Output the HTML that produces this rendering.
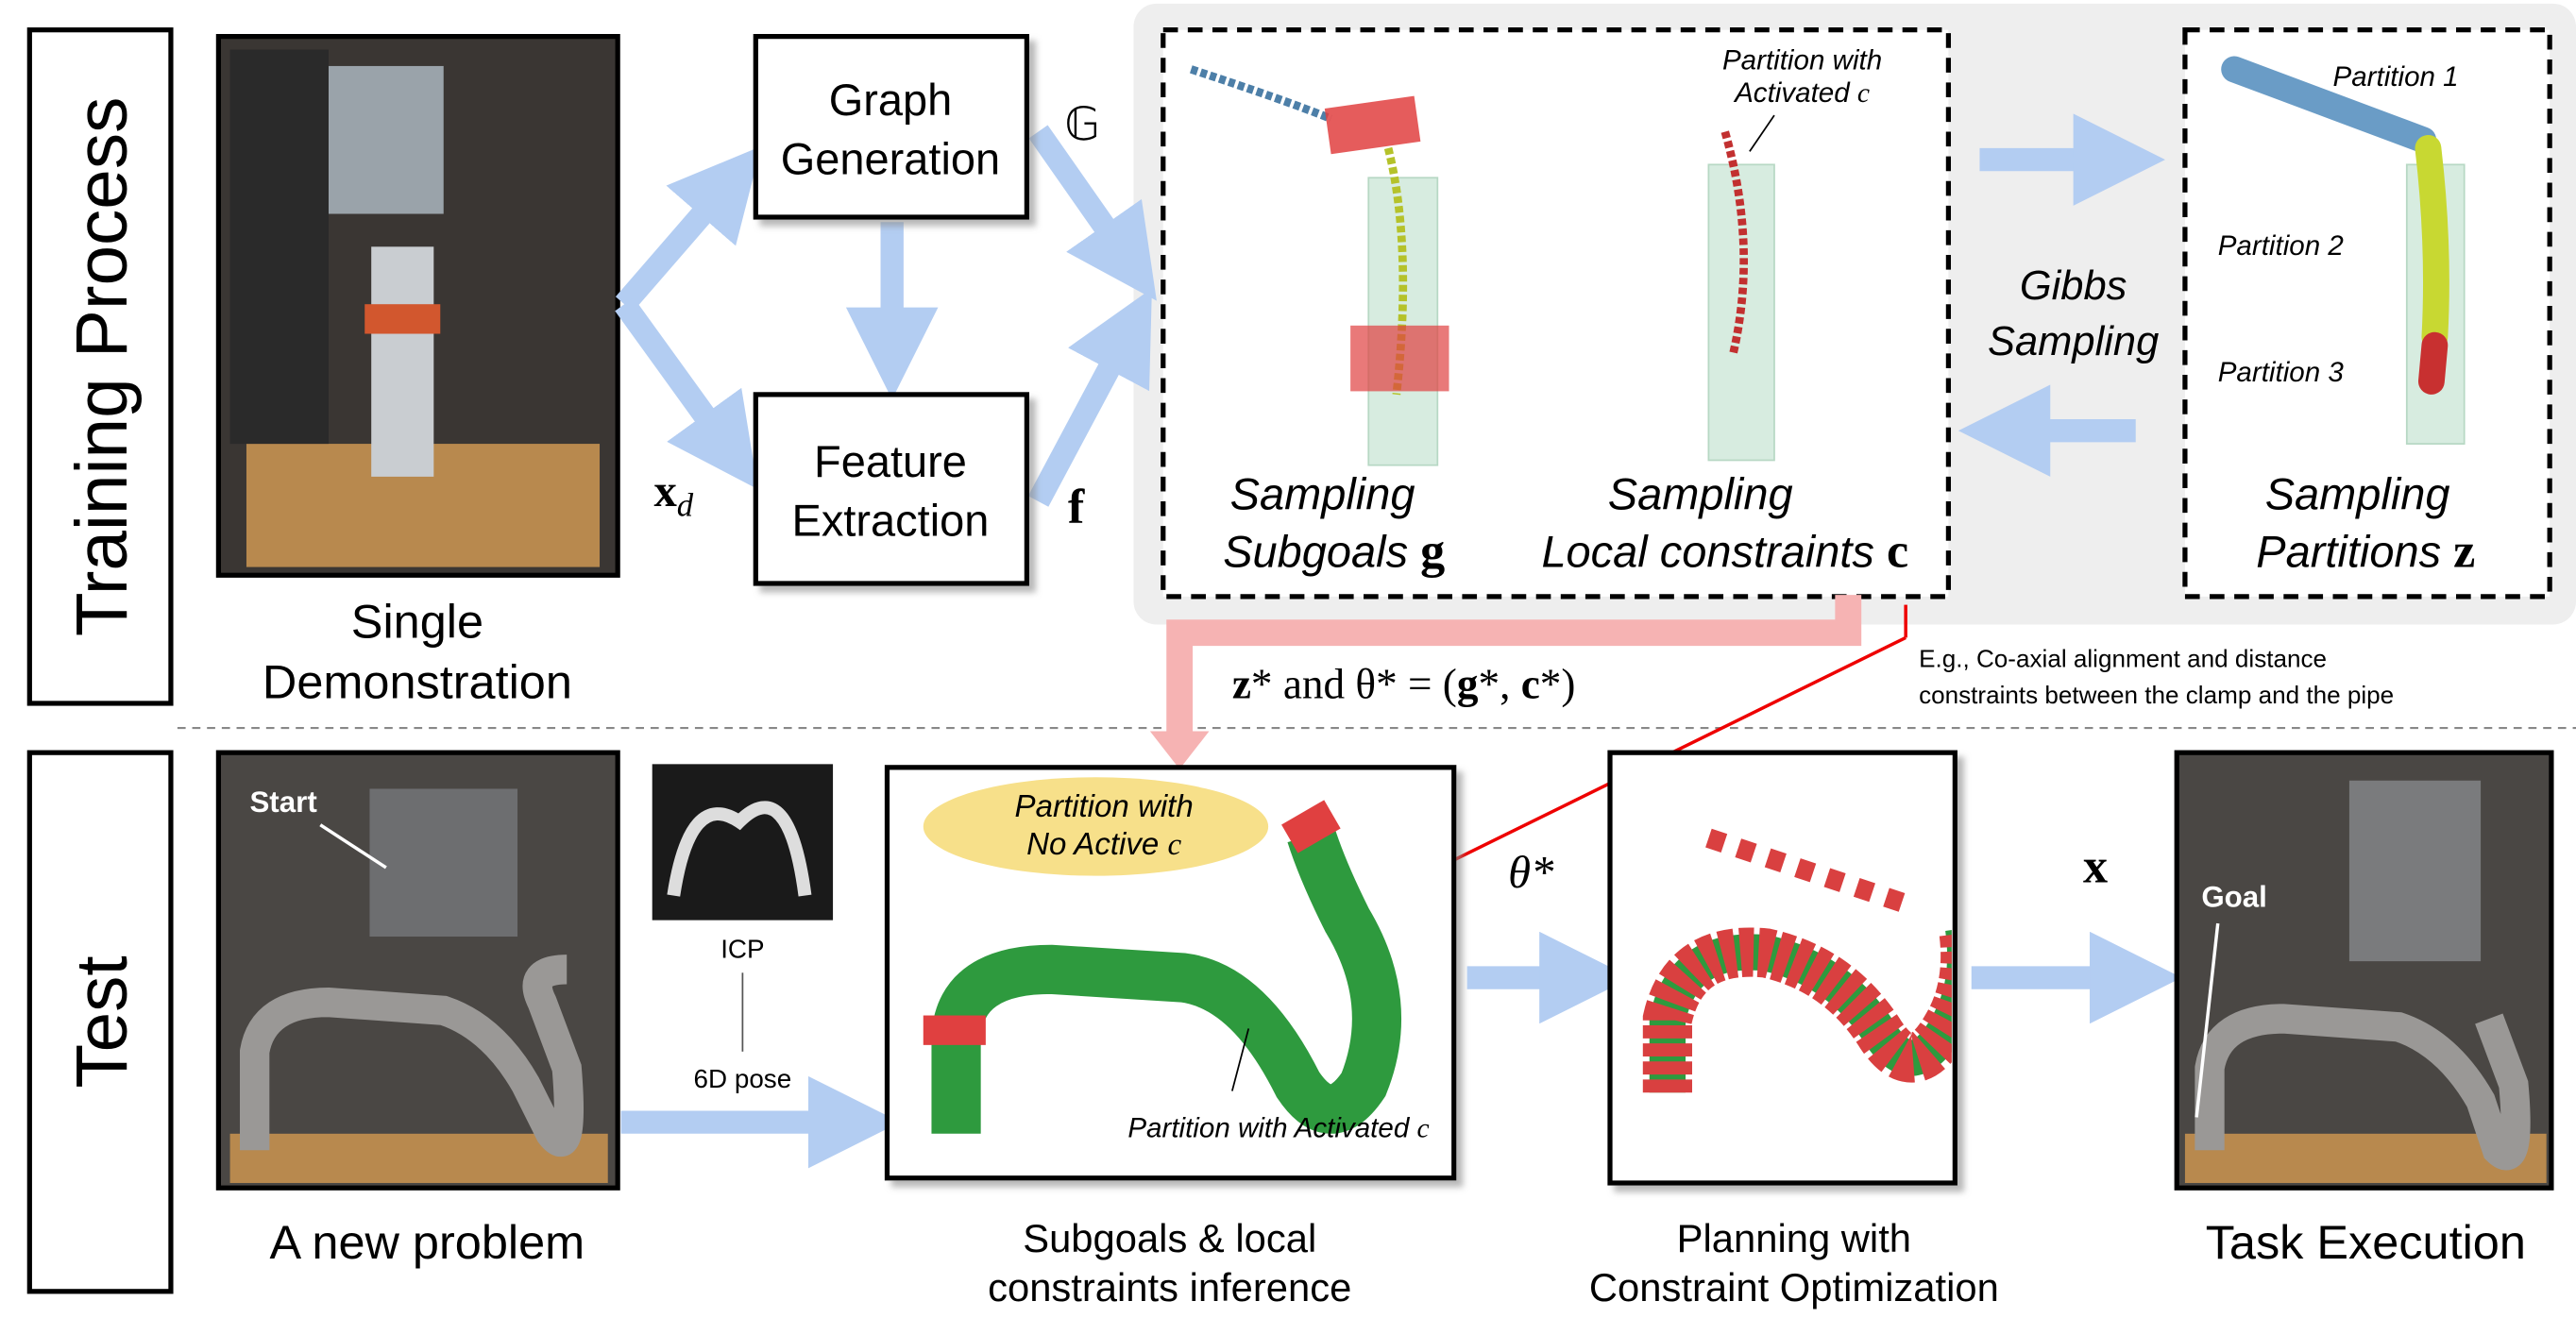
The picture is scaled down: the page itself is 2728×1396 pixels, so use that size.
<!DOCTYPE html>
<html><head><meta charset="utf-8"><style>
html,body{margin:0;padding:0;background:#fff;}
svg{display:block;}
text{font-family:"Liberation Sans",sans-serif;}
.serif{font-family:"Liberation Serif",serif;}
</style></head><body>
<svg width="2728" height="1396" viewBox="0 0 1568 802" xmlns="http://www.w3.org/2000/svg">
<defs>
<marker id="ah" markerWidth="4" markerHeight="4" refX="2" refY="2" orient="auto" markerUnits="strokeWidth"><path d="M0,0 L4,2 L0,4 z" fill="#b3cdf2"/></marker>
<filter id="sh" x="-10%" y="-10%" width="130%" height="130%"><feDropShadow dx="4" dy="4" stdDeviation="2" flood-color="#888" flood-opacity="0.6"/></filter>
<clipPath id="pc"><rect x="982" y="460" width="206" height="258"/></clipPath>
</defs>

<rect x="690" y="2" width="878" height="378" rx="14" fill="#eeeeee"/>

<g>
<rect x="18" y="18" width="86" height="410" fill="#fff" stroke="#000" stroke-width="3"/>
<text x="0" y="0" font-size="44" text-anchor="middle" transform="translate(77,223) rotate(-90)">Training Process</text>
</g>
<g>
<rect x="18" y="458" width="86" height="328" fill="#fff" stroke="#000" stroke-width="3"/>
<text x="0" y="0" font-size="44" text-anchor="middle" transform="translate(77,622) rotate(-90)">Test</text>
</g>

<line x1="108" y1="443" x2="1568" y2="443" stroke="#888" stroke-width="1.2" stroke-dasharray="5,4"/>

<g>
<rect x="133" y="22" width="243" height="328" fill="#3a3633" stroke="#000" stroke-width="3"/>
<rect x="150" y="270" width="215" height="75" fill="#b8894e"/>
<rect x="226" y="150" width="38" height="140" fill="#c9cdd1"/>
<rect x="222" y="185" width="46" height="18" fill="#d2572e"/>
<rect x="200" y="40" width="70" height="90" fill="#9aa3aa"/>
<rect x="140" y="30" width="60" height="240" fill="#2a2a2a"/>
</g>
<text x="254" y="388" font-size="29" text-anchor="middle">Single</text>
<text x="254" y="425" font-size="29" text-anchor="middle">Demonstration</text>

<g fill="none" stroke="#b3cdf2" stroke-width="14">
<path d="M380,185 L445,110" marker-end="url(#ah)"/>
<path d="M380,185 L445,275" marker-end="url(#ah)"/>
<path d="M543,135 L543,215" marker-end="url(#ah)"/>
<path d="M632,80 L688,160" marker-end="url(#ah)"/>
<path d="M632,305 L688,200" marker-end="url(#ah)"/>
<path d="M1205,97 L1290,97" marker-end="url(#ah)"/>
<path d="M1300,262 L1220,262" marker-end="url(#ah)"/>
</g>

<g>
<rect x="460" y="22" width="165" height="110" fill="#fff" stroke="#000" stroke-width="3" filter="url(#sh)"/>
<text x="542" y="70" font-size="27" text-anchor="middle">Graph</text>
<text x="542" y="106" font-size="27" text-anchor="middle">Generation</text>
</g>
<g>
<rect x="460" y="240" width="165" height="115" fill="#fff" stroke="#000" stroke-width="3" filter="url(#sh)"/>
<text x="542" y="290" font-size="27" text-anchor="middle">Feature</text>
<text x="542" y="326" font-size="27" text-anchor="middle">Extraction</text>
</g>
<text x="398" y="308" class="serif" font-size="28" font-weight="bold">x<tspan font-weight="normal" font-style="italic" font-size="20" dy="6">d</tspan></text>
<text x="648" y="85" class="serif" font-size="28">𝔾</text>
<text x="650" y="318" class="serif" font-size="30" font-weight="bold">f</text>

<rect x="708" y="18" width="478" height="345" fill="#fff" stroke="#000" stroke-width="3" stroke-dasharray="9,6"/>
<g>
<rect x="833" y="108" width="42" height="175" fill="#d7ece0" stroke="#b7d8c4"/>
<path d="M725,42 Q780,60 810,72" stroke="#4d7fa8" stroke-width="5" fill="none" stroke-dasharray="4,2"/>
<path d="M845,90 Q860,150 850,240" stroke="#b5c22a" stroke-width="5" fill="none" stroke-dasharray="4,2"/>
<rect x="808" y="62" width="55" height="28" fill="#e04040" opacity="0.85" transform="rotate(-8 835 76)"/>
<rect x="822" y="198" width="60" height="40" fill="#e04040" opacity="0.7"/>
</g>
<g>
<rect x="1040" y="100" width="40" height="180" fill="#d7ece0" stroke="#b7d8c4"/>
<path d="M1050,80 Q1070,150 1055,215" stroke="#c23030" stroke-width="5" fill="none" stroke-dasharray="4,2"/>
<line x1="1065" y1="92" x2="1080" y2="70" stroke="#000"/>
</g>
<text x="1097" y="42" font-size="17" font-style="italic" text-anchor="middle">Partition with</text>
<text x="1097" y="62" font-size="17" font-style="italic" text-anchor="middle">Activated <tspan class="serif">c</tspan></text>
<text x="805" y="310" font-size="27" font-style="italic" text-anchor="middle">Sampling</text>
<text x="812" y="345" font-size="27" font-style="italic" text-anchor="middle">Subgoals <tspan class="serif" font-weight="bold" font-style="normal" font-size="30">g</tspan></text>
<text x="1035" y="310" font-size="27" font-style="italic" text-anchor="middle">Sampling</text>
<text x="1050" y="345" font-size="27" font-style="italic" text-anchor="middle">Local constraints <tspan class="serif" font-weight="bold" font-style="normal" font-size="30">c</tspan></text>

<text x="1262" y="182" font-size="25" font-style="italic" text-anchor="middle">Gibbs</text>
<text x="1262" y="216" font-size="25" font-style="italic" text-anchor="middle">Sampling</text>

<rect x="1330" y="18" width="222" height="345" fill="#fff" stroke="#000" stroke-width="3" stroke-dasharray="9,6"/>
<g>
<rect x="1465" y="100" width="35" height="170" fill="#d7ece0" stroke="#b7d8c4"/>
<path d="M1360,42 L1475,85" stroke="#6a9cc6" stroke-width="16" stroke-linecap="round"/>
<path d="M1478,90 Q1485,150 1482,205" stroke="#c8d832" stroke-width="16" stroke-linecap="round"/>
<path d="M1482,210 L1480,232" stroke="#c83030" stroke-width="16" stroke-linecap="round"/>
</g>
<text x="1420" y="52" font-size="17" font-style="italic">Partition 1</text>
<text x="1350" y="155" font-size="17" font-style="italic">Partition 2</text>
<text x="1350" y="232" font-size="17" font-style="italic">Partition 3</text>
<text x="1435" y="310" font-size="27" font-style="italic" text-anchor="middle">Sampling</text>
<text x="1440" y="345" font-size="27" font-style="italic" text-anchor="middle">Partitions <tspan class="serif" font-weight="bold" font-style="normal" font-size="30">z</tspan></text>

<path d="M1125,362 L1125,385 L718,385 L718,450" fill="none" stroke="#f6b3b3" stroke-width="16"/>
<path d="M700,445 L718,468 L736,445 z" fill="#f6b3b3"/>
<text x="750" y="425" class="serif" font-size="26"><tspan font-weight="bold">z</tspan>* and θ* = (<tspan font-weight="bold">g</tspan>*, <tspan font-weight="bold">c</tspan>*)</text>
<line x1="1160" y1="368" x2="1160" y2="388" stroke="#e00" stroke-width="2"/>
<line x1="1160" y1="388" x2="835" y2="548" stroke="#e00" stroke-width="2"/>
<text x="1168" y="406" font-size="15">E.g., Co-axial alignment and distance</text>
<text x="1168" y="428" font-size="15">constraints between the clamp and the pipe</text>

<g>
<rect x="133" y="458" width="243" height="265" fill="#4a4744" stroke="#000" stroke-width="3"/>
<rect x="140" y="690" width="230" height="30" fill="#b8894e"/>
<path d="M155,700 L155,640 Q160,610 200,610 L270,615 Q300,625 320,660 L335,690 Q350,710 345,650 L330,610 Q320,590 345,590" stroke="#9a9896" stroke-width="18" fill="none"/>
<rect x="225" y="480" width="90" height="90" fill="#6d6e70"/>
</g>
<text x="152" y="494" font-size="18" font-weight="bold" fill="#fff">Start</text>
<line x1="195" y1="502" x2="235" y2="528" stroke="#fff" stroke-width="2"/>
<text x="260" y="766" font-size="29" text-anchor="middle">A new problem</text>

<rect x="397" y="465" width="110" height="95" fill="#1a1a1a"/>
<path d="M410,545 Q420,480 450,500 Q480,470 490,545" stroke="#ddd" stroke-width="8" fill="none"/>
<text x="452" y="583" font-size="16" text-anchor="middle">ICP</text>
<line x1="452" y1="592" x2="452" y2="640" stroke="#555"/>
<text x="452" y="662" font-size="16" text-anchor="middle">6D pose</text>
<path d="M378,683 L520,683" stroke="#b3cdf2" stroke-width="14" marker-end="url(#ah)"/>

<g>
<rect x="540" y="467" width="345" height="250" fill="#fff" stroke="#000" stroke-width="3" filter="url(#sh)"/>
<path d="M582,690 L582,630 Q585,590 640,590 L720,595 Q760,600 790,660 Q810,690 830,660 Q850,610 820,560 Q805,530 798,508" stroke="#2e9a3e" stroke-width="30" fill="none"/>
<rect x="562" y="618" width="38" height="18" fill="#e04040"/>
<rect x="783" y="493" width="30" height="20" fill="#e04040" transform="rotate(-30 798 503)"/>
<ellipse cx="667" cy="503" rx="105" ry="30" fill="#f7e08a"/>
<text x="672" y="497" font-size="19" font-style="italic" text-anchor="middle">Partition with</text>
<text x="672" y="520" font-size="19" font-style="italic" text-anchor="middle">No Active <tspan class="serif">c</tspan></text>
<line x1="750" y1="664" x2="760" y2="626" stroke="#000"/>
<text x="870" y="692" font-size="17" font-style="italic" text-anchor="end">Partition with Activated <tspan class="serif">c</tspan></text>
</g>
<text x="712" y="762" font-size="24" text-anchor="middle">Subgoals &amp; local</text>
<text x="712" y="792" font-size="24" text-anchor="middle">constraints inference</text>

<path d="M893,595 L965,595" stroke="#b3cdf2" stroke-width="14" marker-end="url(#ah)"/>
<text x="918" y="540" class="serif" font-size="28" font-style="italic">θ*</text>

<g>
<rect x="980" y="458" width="210" height="262" fill="#fff" stroke="#000" stroke-width="3" filter="url(#sh)"/>
<g clip-path="url(#pc)">
<path d="M1015,665 L1015,620 Q1025,575 1075,580 Q1120,590 1145,630 Q1165,660 1185,625 Q1200,600 1195,565" stroke="#2e9a3e" stroke-width="22" fill="none"/>
<path d="M1015,665 L1015,620 Q1025,575 1075,580 Q1120,590 1145,630 Q1165,660 1185,625 Q1200,600 1195,565" stroke="#d94040" stroke-width="30" fill="none" stroke-dasharray="8,3"/>
<path d="M1040,510 L1160,550" stroke="#d94040" stroke-width="12" stroke-dasharray="10,9"/>
</g>
</g>
<text x="1092" y="762" font-size="24" text-anchor="middle">Planning with</text>
<text x="1092" y="792" font-size="24" text-anchor="middle">Constraint Optimization</text>

<path d="M1200,595 L1300,595" stroke="#b3cdf2" stroke-width="14" marker-end="url(#ah)"/>
<text x="1268" y="537" class="serif" font-size="30" font-weight="bold">x</text>

<g>
<rect x="1325" y="458" width="228" height="265" fill="#4a4744" stroke="#000" stroke-width="3"/>
<rect x="1330" y="690" width="220" height="30" fill="#b8894e"/>
<path d="M1345,700 L1345,650 Q1350,620 1390,620 L1460,625 Q1490,635 1510,670 L1520,700 Q1535,715 1530,660 L1515,620" stroke="#9a9896" stroke-width="18" fill="none"/>
<rect x="1430" y="475" width="80" height="110" fill="#7a7b7d"/>
</g>
<text x="1340" y="552" font-size="18" font-weight="bold" fill="#fff">Goal</text>
<line x1="1350" y1="562" x2="1337" y2="680" stroke="#fff" stroke-width="2"/>
<text x="1440" y="766" font-size="29" text-anchor="middle">Task Execution</text>
</svg>
</body></html>
